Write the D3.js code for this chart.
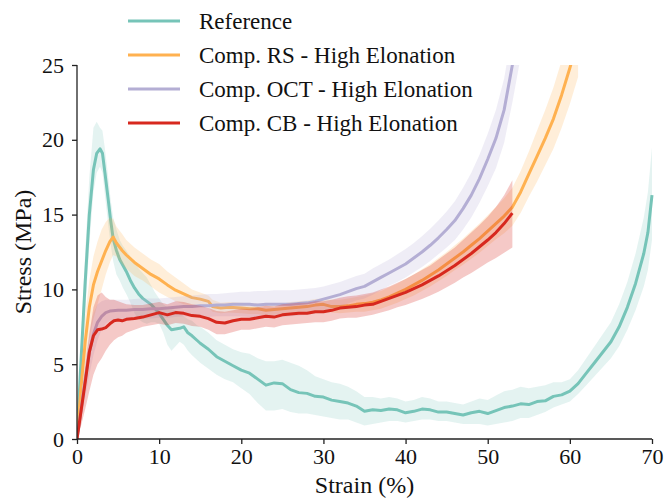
<!DOCTYPE html>
<html>
<head>
<meta charset="utf-8">
<script src="https://cdn.jsdelivr.net/npm/d3@7"></script>
<style>
  html, body { margin: 0; padding: 0; background: #fff; }
  svg { display: block; }
</style>
</head>
<body>
<svg id="chart" width="666" height="501"></svg>
<script>
// ---------------- DATA ----------------
const seriesNames = ["Reference", "Comp. RS - High Elonation", "Comp. OCT - High Elonation", "Comp. CB - High Elonation"];
const seriesColors = ["#76c4b8", "#ffb150", "#b4aed4", "#d7281e"];
const xTicks = [0, 10, 20, 30, 40, 50, 60, 70];
const yTicks = [0, 5, 10, 15, 20, 25];

// Reference
const refX  = [0,0.4,1.0,1.5,2.0,2.4,2.8,3.1,3.4,3.8,4.1,4.4,4.8,5.2,5.6,6.0,6.5,7.0,7.5,8.0,8.5,9.0,9.5,10,10.5,11,11.5,12,12.5,13,13.5,14,14.6,15,16,17,18,19,20,21,22,23,24,25,26,27,28,29,30,31,32,33,34,35,36,37,38,39,40,41,42,43,44,45,46,47,48,49,50,51,52,53,54,55,56,57,58,59,60,61,62,63,64,65,66,67,68,69,69.5,70];
const refY  = [0,4.3,10.5,15.0,18.0,19.1,19.4,19.1,17.8,16.0,14.6,13.4,12.6,12.0,11.6,11.2,10.6,10.1,9.7,9.4,9.2,9.0,8.7,8.4,8.0,7.6,7.3,7.35,7.4,7.5,7.1,6.9,6.6,6.4,6.0,5.5,5.2,4.9,4.6,4.4,4.0,3.6,3.75,3.7,3.3,3.1,3.05,2.85,2.8,2.6,2.5,2.4,2.2,1.85,1.95,1.9,2.0,1.95,1.75,1.85,2.0,1.95,1.8,1.8,1.7,1.6,1.75,1.85,1.7,1.9,2.1,2.2,2.35,2.3,2.5,2.55,2.85,2.95,3.2,3.7,4.4,5.1,5.8,6.5,7.5,8.8,10.4,12.4,13.8,16.3];
const refLo = [0,3.0,8.5,13.0,16.5,17.8,18.2,17.8,16.3,14.3,13.0,11.9,11.0,10.6,10.1,9.7,9.1,8.4,8.0,7.8,7.7,7.8,7.8,7.7,7.1,6.3,5.9,6.2,6.5,6.3,5.9,5.6,5.3,5.1,4.7,4.3,4.0,3.8,3.4,3.0,2.4,1.9,1.9,2.0,1.8,1.7,1.7,1.6,1.5,1.4,1.3,1.3,1.1,0.9,1.0,1.1,1.2,1.2,1.1,1.2,1.3,1.3,1.2,1.2,1.1,1.0,1.0,1.0,0.9,1.0,1.1,1.2,1.4,1.4,1.6,1.8,2.1,2.3,2.5,3.0,3.6,4.2,4.8,5.4,6.2,7.3,8.6,10.2,11.3,13.3];
const refHi = [0,5.5,12.5,17.5,20.8,21.2,20.8,20.6,19.4,17.5,16.0,14.8,14.0,13.3,12.9,12.6,12.2,11.8,11.4,11.1,10.8,10.3,9.8,9.4,9.0,8.8,8.7,8.6,8.4,8.2,8.0,7.9,7.6,7.5,7.1,6.6,6.3,6.0,5.8,5.7,5.4,5.2,5.2,5.3,5.1,4.9,4.6,4.2,4.0,3.8,3.7,3.5,3.2,2.8,2.8,2.7,2.8,2.7,2.5,2.6,2.8,2.7,2.5,2.5,2.4,2.3,2.5,2.7,2.6,2.9,3.2,3.3,3.5,3.4,3.5,3.6,3.8,3.8,4.0,4.6,5.4,6.2,7.0,7.8,9.0,10.5,12.4,14.8,16.5,19.5];

// Comp. RS
const rsX  = [0,0.5,1.0,1.5,2.0,2.5,3.0,3.5,4.0,4.4,4.8,5.5,6,7,8,9,10,11,12,13,14,15,16,16.5,17.5,18.5,20,21,22,23,24,25,26,27,28,29,30,31,32,33,34,35,36,37,38,39,40,41,42,43,44,45,46,47,48,49,50,51,52,53,54,55,56,57,58,59,60,61];
const rsY  = [0,3.5,6.5,8.8,10.3,11.2,11.9,12.6,13.2,13.5,13.1,12.6,12.3,11.8,11.4,11.0,10.7,10.3,9.95,9.7,9.45,9.35,9.2,8.85,8.75,8.8,8.75,8.7,8.7,8.6,8.65,8.7,8.75,8.8,8.85,8.95,9.0,8.85,8.85,8.9,9.0,9.05,9.15,9.3,9.5,9.75,10.0,10.3,10.6,10.95,11.3,11.7,12.1,12.5,12.95,13.4,13.9,14.4,14.9,15.5,16.5,17.7,18.9,20.1,21.4,23.0,24.8,26.7];
const rsLo = [0,2.2,4.6,6.6,8.0,9.0,10.0,11.0,11.8,12.3,12.2,11.7,11.4,10.9,10.6,10.2,9.8,9.5,9.2,9.0,8.9,8.9,8.8,8.5,8.4,8.45,8.4,8.35,8.35,8.25,8.3,8.35,8.4,8.45,8.5,8.55,8.6,8.45,8.4,8.45,8.5,8.5,8.6,8.7,8.9,9.1,9.35,9.6,9.9,10.2,10.55,10.9,11.3,11.65,12.05,12.45,12.9,13.35,13.75,14.25,15.1,16.2,17.2,18.3,19.4,20.8,22.4,24.2];
const rsHi = [0,4.6,8.2,10.6,12.2,13.2,14.0,14.5,14.8,14.7,14.2,13.7,13.3,12.8,12.4,12.0,11.7,11.2,10.8,10.4,10.0,9.8,9.6,9.3,9.1,9.15,9.1,9.05,9.05,8.95,9.0,9.05,9.15,9.2,9.25,9.35,9.4,9.3,9.3,9.4,9.5,9.6,9.75,9.9,10.15,10.4,10.7,11.0,11.35,11.7,12.1,12.5,12.95,13.4,13.9,14.4,14.95,15.5,16.1,16.8,17.9,19.2,20.6,22.0,23.5,25.3,27.2,29.3];

// Comp. OCT
const octX  = [0,0.5,1.0,1.5,2.0,2.5,3.0,3.5,4.0,5,6,7,8,9,10,11,12,13,14,15,16,17,18,19,20,21,22,23,24,25,26,27,28,29,30,31,32,33,34,35,36,37,38,39,40,41,42,43,44,45,46,47,48,49,50,51,52,53,54];
const octY  = [0,2.0,4.0,5.8,7.0,7.8,8.2,8.45,8.55,8.6,8.6,8.65,8.65,8.7,8.7,8.75,8.8,8.85,8.85,8.9,8.9,8.95,8.95,9.0,9.0,9.0,8.95,9.0,9.0,9.0,9.0,9.05,9.1,9.2,9.35,9.5,9.65,9.85,10.05,10.2,10.5,10.8,11.1,11.4,11.7,12.1,12.5,12.95,13.45,14.0,14.6,15.4,16.3,17.4,18.7,20.1,22.0,25.0,28.5];
const octLo = [0,1.2,2.8,4.3,5.6,6.6,7.3,7.7,7.9,8.0,8.0,8.05,8.05,8.05,8.1,8.1,8.15,8.2,8.15,8.2,8.15,8.2,8.2,8.2,8.2,8.15,8.1,8.1,8.1,8.15,8.2,8.25,8.3,8.4,8.55,8.7,8.85,9.05,9.25,9.4,9.65,9.95,10.25,10.5,10.8,11.15,11.5,11.9,12.35,12.8,13.3,14.0,14.8,15.8,16.9,18.1,19.8,22.5,25.5];
const octHi = [0,2.8,5.3,7.2,8.4,9.0,9.2,9.3,9.3,9.3,9.3,9.35,9.4,9.4,9.4,9.45,9.5,9.55,9.6,9.65,9.7,9.7,9.75,9.8,9.85,9.85,9.9,9.9,9.95,9.95,9.95,10.0,10.05,10.1,10.2,10.35,10.5,10.7,10.9,11.05,11.4,11.7,12.0,12.35,12.7,13.1,13.55,14.05,14.6,15.2,15.9,16.8,17.8,19.0,20.4,22.0,24.1,27.3,31.0];

// Comp. CB
const cbX  = [0,0.5,1.0,1.5,2.0,2.5,3.0,3.5,4.0,4.5,5.0,5.5,6,7,8,9,10,11,12,13,14,15,16,17,18,19,20,21,22,23,24,25,26,27,28,29,30,31,32,33,34,35,36,37,38,39,40,41,42,43,44,45,46,47,48,49,50,51,52,53];
const cbY  = [0,1.9,3.8,5.8,6.9,7.3,7.35,7.45,7.7,7.9,7.95,7.9,8.0,8.05,8.15,8.3,8.45,8.3,8.45,8.4,8.25,8.2,8.05,7.8,7.75,7.9,8.0,8.0,8.1,8.2,8.15,8.3,8.35,8.4,8.4,8.5,8.5,8.6,8.75,8.8,8.85,8.95,9.0,9.2,9.4,9.6,9.8,10.05,10.3,10.6,10.9,11.25,11.6,12.0,12.4,12.85,13.3,13.8,14.4,15.1];
const cbLo = [0,0.9,2.0,3.2,4.3,5.0,5.4,5.9,6.3,6.6,6.8,6.9,7.1,7.3,7.5,7.6,7.7,7.6,7.75,7.7,7.55,7.5,7.3,7.0,7.0,7.15,7.3,7.3,7.4,7.5,7.45,7.6,7.65,7.7,7.75,7.8,7.8,7.9,8.05,8.1,8.1,8.2,8.3,8.45,8.6,8.8,8.95,9.15,9.35,9.6,9.85,10.15,10.45,10.8,11.1,11.45,11.8,12.1,12.45,12.8];
const cbHi = [0,2.5,4.8,7.0,8.8,9.6,9.8,9.5,9.3,9.3,9.2,9.1,9.0,8.95,8.95,9.05,9.15,9.0,9.2,9.15,9.0,8.9,8.75,8.55,8.5,8.6,8.7,8.7,8.8,8.9,8.85,9.0,9.05,9.1,9.1,9.2,9.2,9.3,9.45,9.55,9.6,9.7,9.8,10.0,10.2,10.45,10.7,11.0,11.3,11.6,12.0,12.4,12.8,13.3,13.8,14.3,14.85,15.5,16.3,17.3];

const seriesX  = [refX, rsX, octX, cbX];
const seriesY  = [refY, rsY, octY, cbY];
const seriesLo = [refLo, rsLo, octLo, cbLo];
const seriesHi = [refHi, rsHi, octHi, cbHi];

// ---------------- CHART ----------------
const svg = d3.select("#chart");
const L = 77, R = 652, T = 65, B = 439;
const x = d3.scaleLinear().domain([0, 70]).range([L, R]);
const y = d3.scaleLinear().domain([0, 25]).range([B, T]);
const font = "\"Liberation Serif\", \"Times New Roman\", serif";

svg.append("defs").append("clipPath").attr("id", "plotclip")
  .append("rect").attr("x", L).attr("y", T).attr("width", R - L + 2).attr("height", B - T);

const plot = svg.append("g").attr("clip-path", "url(#plotclip)");

const bandAlpha = [0.2, 0.22, 0.22, 0.25];

seriesNames.forEach((name, i) => {
  const pts = seriesX[i].map((xv, k) => ({x: xv, y: seriesY[i][k], lo: seriesLo[i][k], hi: seriesHi[i][k]}));
  const area = d3.area().x(d => x(d.x)).y0(d => y(d.lo)).y1(d => y(d.hi));
  const line = d3.line().x(d => x(d.x)).y(d => y(d.y));
  plot.append("path").datum(pts).attr("d", area)
    .attr("fill", seriesColors[i]).attr("fill-opacity", bandAlpha[i]).attr("stroke", "none");
  plot.append("path").datum(pts).attr("d", line)
    .attr("fill", "none").attr("stroke", seriesColors[i]).attr("stroke-width", 3)
    .attr("stroke-linejoin", "round");
});

// Axes
const xAxis = d3.axisBottom(x).tickValues(xTicks).tickSize(5).tickPadding(4).tickFormat(d3.format("d"));
const yAxis = d3.axisLeft(y).tickValues(yTicks).tickSize(5).tickPadding(8).tickFormat(d3.format("d"));

const gx = svg.append("g").attr("transform", `translate(0,${B})`).call(xAxis);
const gy = svg.append("g").attr("transform", `translate(${L},0)`).call(yAxis);
[gx, gy].forEach(g => {
  g.attr("font-family", null).attr("font-size", null);
  g.select(".domain").attr("stroke", "#222").attr("stroke-width", 1.3);
  g.selectAll(".tick line").attr("stroke", "#222").attr("stroke-width", 1.3);
  g.selectAll(".tick text").attr("fill", "#111").style("font-family", font).style("font-size", "22px");
});
gx.select(".domain").attr("d", `M${L},0H${R}`);
gy.select(".domain").attr("d", `M0,${B}V${T}`);

// Axis labels
svg.append("text").attr("x", (L + R) / 2).attr("y", 493)
  .attr("text-anchor", "middle").style("font-family", font).style("font-size", "24px").attr("fill", "#111")
  .text("Strain (%)");
svg.append("text").attr("transform", `translate(31,${(T + B) / 2}) rotate(-90)`)
  .attr("text-anchor", "middle").style("font-family", font).style("font-size", "24px").attr("fill", "#111")
  .text("Stress (MPa)");

// Legend
const legY = [21, 55, 89, 123];
const leg = svg.append("g");
seriesNames.forEach((name, i) => {
  leg.append("line").attr("x1", 128).attr("x2", 180).attr("y1", legY[i]).attr("y2", legY[i])
    .attr("stroke", seriesColors[i]).attr("stroke-width", 3);
  leg.append("text").attr("x", 199).attr("y", legY[i] + 8)
    .style("font-family", font).style("font-size", "23px").attr("fill", "#111")
    .text(name);
});
</script>
</body>
</html>
